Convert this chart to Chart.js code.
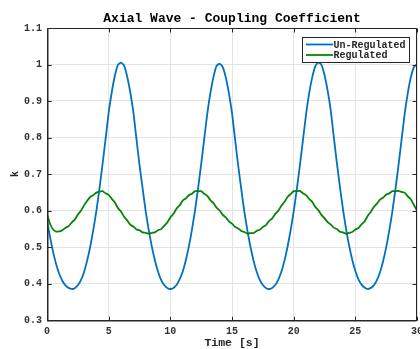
<!DOCTYPE html>
<html>
<head>
<meta charset="utf-8">
<script src="https://cdn.jsdelivr.net/npm/chart.js@4.4.1/dist/chart.umd.min.js"></script>
<style>
  html, body { margin: 0; padding: 0; background: #ffffff; }
  #wrap { width: 420px; height: 349px; }
</style>
</head>
<body>
<div id="wrap"><canvas id="c" width="420" height="349"></canvas></div>
<script>
// Labels
const chartTitle = 'Axial Wave - Coupling Coefficient';
const xAxisTitle = 'Time [s]';
const yAxisTitle = 'k';
const seriesNames = ['Un-Regulated', 'Regulated'];

// Sample times [s]
const time = [
  0, 0.25, 0.5, 0.75, 1, 1.25, 1.5, 1.75,
  2, 2.25, 2.5, 2.75, 3, 3.25, 3.5, 3.75,
  4, 4.25, 4.5, 4.75, 5, 5.25, 5.5, 5.75,
  6, 6.25, 6.5, 6.75, 7, 7.25, 7.5, 7.75,
  8, 8.25, 8.5, 8.75, 9, 9.25, 9.5, 9.75,
  10, 10.25, 10.5, 10.75, 11, 11.25, 11.5, 11.75,
  12, 12.25, 12.5, 12.75, 13, 13.25, 13.5, 13.75,
  14, 14.25, 14.5, 14.75, 15, 15.25, 15.5, 15.75,
  16, 16.25, 16.5, 16.75, 17, 17.25, 17.5, 17.75,
  18, 18.25, 18.5, 18.75, 19, 19.25, 19.5, 19.75,
  20, 20.25, 20.5, 20.75, 21, 21.25, 21.5, 21.75,
  22, 22.25, 22.5, 22.75, 23, 23.25, 23.5, 23.75,
  24, 24.25, 24.5, 24.75, 25, 25.25, 25.5, 25.75,
  26, 26.25, 26.5, 26.75, 27, 27.25, 27.5, 27.75,
  28, 28.25, 28.5, 28.75, 29, 29.25, 29.5, 29.75,
  30
];

// Coupling coefficient k, no regulation
const unRegulated = [
  0.572, 0.527, 0.486, 0.452, 0.426, 0.407, 0.395, 0.388,
  0.385, 0.387, 0.395, 0.409, 0.431, 0.462, 0.500, 0.546,
  0.598, 0.659, 0.726, 0.796, 0.868, 0.924, 0.969, 0.999,
  1.005, 0.997, 0.967, 0.924, 0.870, 0.797, 0.725, 0.661,
  0.598, 0.546, 0.501, 0.463, 0.433, 0.410, 0.396, 0.388,
  0.385, 0.388, 0.396, 0.411, 0.432, 0.463, 0.501, 0.547,
  0.600, 0.661, 0.727, 0.797, 0.866, 0.922, 0.966, 0.996,
  1.002, 0.993, 0.964, 0.921, 0.867, 0.795, 0.724, 0.659,
  0.597, 0.545, 0.500, 0.462, 0.432, 0.410, 0.396, 0.388,
  0.385, 0.388, 0.396, 0.410, 0.432, 0.462, 0.500, 0.545,
  0.597, 0.657, 0.722, 0.792, 0.862, 0.920, 0.964, 0.995,
  1.006, 0.999, 0.971, 0.929, 0.876, 0.803, 0.731, 0.665,
  0.603, 0.549, 0.503, 0.465, 0.434, 0.411, 0.397, 0.389,
  0.385, 0.388, 0.395, 0.409, 0.431, 0.461, 0.499, 0.545,
  0.597, 0.658, 0.724, 0.794, 0.865, 0.921, 0.965, 0.993,
  1.001
];

// Coupling coefficient k, regulated
const regulated = [
  0.590, 0.563, 0.548, 0.542, 0.543, 0.546, 0.553, 0.557,
  0.567, 0.575, 0.589, 0.599, 0.614, 0.626, 0.637, 0.642,
  0.649, 0.652, 0.653, 0.647, 0.643, 0.632, 0.622, 0.607,
  0.597, 0.583, 0.573, 0.561, 0.556, 0.548, 0.546, 0.540,
  0.539, 0.536, 0.539, 0.540, 0.546, 0.549, 0.558, 0.567,
  0.581, 0.591, 0.605, 0.614, 0.627, 0.633, 0.642, 0.646,
  0.653, 0.653, 0.653, 0.646, 0.640, 0.628, 0.620, 0.608,
  0.600, 0.588, 0.581, 0.570, 0.564, 0.555, 0.551, 0.544,
  0.541, 0.537, 0.538, 0.538, 0.544, 0.547, 0.555, 0.560,
  0.571, 0.578, 0.590, 0.599, 0.613, 0.623, 0.637, 0.645,
  0.653, 0.653, 0.654, 0.647, 0.642, 0.632, 0.624, 0.610,
  0.601, 0.588, 0.579, 0.568, 0.562, 0.553, 0.549, 0.542,
  0.540, 0.536, 0.539, 0.541, 0.548, 0.552, 0.562, 0.570,
  0.585, 0.596, 0.610, 0.619, 0.630, 0.635, 0.644, 0.647,
  0.653, 0.653, 0.654, 0.651, 0.649, 0.639, 0.631, 0.615,
  0.600
];

// Axis ticks
const xTickValues = [0, 5, 10, 15, 20, 25, 30];
const xTickLabels = ['0', '5', '10', '15', '20', '25', '30'];
const yTickValues = [0.3, 0.4, 0.5, 0.6, 0.7, 0.8, 0.9, 1.0, 1.1];
const yTickLabels = ['0.3', '0.4', '0.5', '0.6', '0.7', '0.8', '0.9', '1', '1.1'];

const MONO = "'Liberation Mono', 'DejaVu Sans Mono', monospace";
const AXIS_COLOR = '#262626';
const TICK_COLOR = '#333333';
const GRID_COLOR = '#e3e3e3';
const COLORS = ['#0072bd', '#078407'];

const toPoints = (values) => values.map((v, i) => ({ x: time[i], y: v }));

// Box around the axes, inward tick marks and the boxed legend
const framePlugin = {
  id: 'frame',
  afterDatasetsDraw(chart) {
    const { ctx, chartArea: a, scales } = chart;
    const L = a.left + 0.75, R = a.right - 0.5, T = a.top + 0.5, B = a.bottom + 0.75;
    ctx.save();
    ctx.strokeStyle = AXIS_COLOR;
    ctx.lineWidth = 1.5;
    ctx.beginPath();
    ctx.moveTo(L, T); ctx.lineTo(L, B); ctx.lineTo(R, B);
    ctx.stroke();
    ctx.lineWidth = 1;
    ctx.beginPath();
    ctx.moveTo(L, T); ctx.lineTo(R, T); ctx.lineTo(R, B);
    const tl = 4;
    xTickValues.forEach(v => {
      const px = Math.round(scales.x.getPixelForValue(v)) + 0.5;
      ctx.moveTo(px, B); ctx.lineTo(px, B - tl);
      ctx.moveTo(px, T); ctx.lineTo(px, T + tl);
    });
    yTickValues.forEach(v => {
      const py = Math.round(scales.y.getPixelForValue(v)) + 0.5;
      ctx.moveTo(L, py); ctx.lineTo(L + tl, py);
      ctx.moveTo(R, py); ctx.lineTo(R - tl, py);
    });
    ctx.stroke();

    // legend
    const w = 107, h = 25;
    const lx = Math.round(a.right - 8 - w) + 0.5;
    const ly = Math.round(a.top + 9) + 0.5;
    ctx.fillStyle = '#ffffff';
    ctx.fillRect(lx, ly, w, h);
    ctx.strokeStyle = AXIS_COLOR;
    ctx.lineWidth = 1;
    ctx.strokeRect(lx, ly, w, h);
    ctx.font = 'bold 10px ' + MONO;
    ctx.textBaseline = 'middle';
    ctx.textAlign = 'left';
    seriesNames.forEach((name, i) => {
      const ry = ly + 7 + i * 10.5;
      ctx.strokeStyle = COLORS[i];
      ctx.lineWidth = 1.8;
      ctx.beginPath();
      ctx.moveTo(lx + 3.5, ry);
      ctx.lineTo(lx + 30.5, ry);
      ctx.stroke();
      ctx.fillStyle = AXIS_COLOR;
      ctx.fillText(name, lx + 31, ry + 0.5);
    });
    ctx.restore();
  }
};

new Chart(document.getElementById('c'), {
  type: 'line',
  data: {
    datasets: [
      {
        label: seriesNames[0],
        data: toPoints(unRegulated),
        borderColor: COLORS[0],
        borderWidth: 1.8,
        pointRadius: 0,
        tension: 0.2,
        order: 1
      },
      {
        label: seriesNames[1],
        data: toPoints(regulated),
        borderColor: COLORS[1],
        borderWidth: 1.8,
        pointRadius: 0,
        tension: 0.1,
        order: 0
      }
    ]
  },
  options: {
    responsive: false,
    animation: false,
    devicePixelRatio: 1,
    layout: { padding: { left: 0, right: 3, top: 0, bottom: 0 } },
    plugins: {
      legend: { display: false },
      tooltip: { enabled: false },
      title: {
        display: true,
        text: chartTitle,
        fullSize: false,
        color: '#000000',
        font: { family: MONO, size: 13, weight: 'bold', lineHeight: 1.2 },
        padding: { top: 10.5, bottom: 1.9 }
      }
    },
    scales: {
      x: {
        type: 'linear',
        min: 0,
        max: 30,
        afterBuildTicks: (s) => { s.ticks = xTickValues.map(v => ({ value: v })); },
        afterFit: (s) => { s.height = 29; s.paddingLeft = 0; s.paddingRight = 0; },
        grid: { color: GRID_COLOR, lineWidth: 1, drawTicks: false },
        border: { display: false },
        ticks: {
          padding: 5,
          maxRotation: 0,
          autoSkip: false,
          color: TICK_COLOR,
          font: { family: MONO, size: 10, weight: 'bold' },
          callback: (v, i) => xTickLabels[i]
        },
        title: {
          display: true,
          text: xAxisTitle,
          color: AXIS_COLOR,
          font: { family: MONO, size: 11.5, weight: 'bold', lineHeight: 1.1 },
          padding: { top: 0, bottom: 0 }
        }
      },
      y: {
        type: 'linear',
        min: 0.3,
        max: 1.1,
        afterBuildTicks: (s) => { s.ticks = yTickValues.map(v => ({ value: v })); },
        afterFit: (s) => { s.width = 47; s.paddingTop = 0; s.paddingBottom = 0; },
        grid: { color: GRID_COLOR, lineWidth: 1, drawTicks: false },
        border: { display: false },
        ticks: {
          padding: 5,
          autoSkip: false,
          color: TICK_COLOR,
          font: { family: MONO, size: 10, weight: 'bold' },
          callback: (v, i) => yTickLabels[i]
        },
        title: {
          display: true,
          text: yAxisTitle,
          color: AXIS_COLOR,
          font: { family: MONO, size: 10, weight: 'bold', lineHeight: 1.2 },
          padding: { top: 9.5, bottom: 0 }
        }
      }
    }
  },
  plugins: [framePlugin]
});
</script>
</body>
</html>
